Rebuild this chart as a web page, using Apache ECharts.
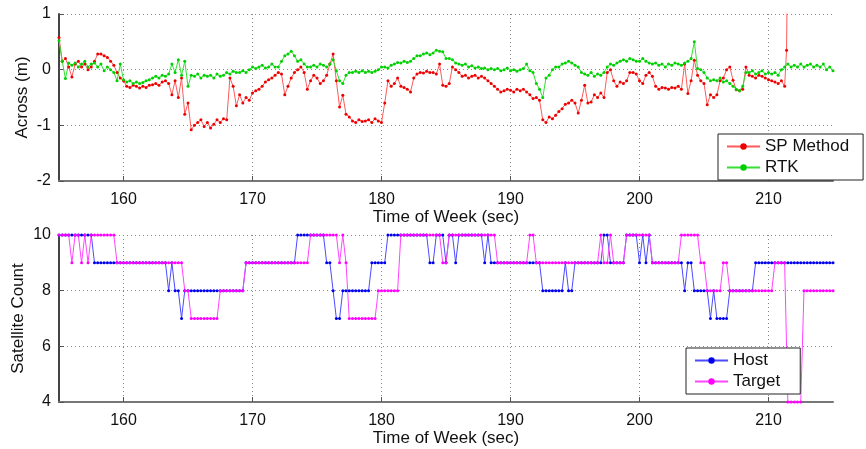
<!DOCTYPE html>
<html>
<head>
<meta charset="utf-8">
<script src="https://cdn.jsdelivr.net/npm/echarts@6/dist/echarts.min.js"></script>
<style>
  html, body { margin: 0; padding: 0; background: #fff; }
  #chart { width: 866px; height: 449px; }
</style>
</head>
<body>
<div id="chart"></div>
<script>
// samples every 0.25 s starting at 155 s
const startTime = 155;
const step = 0.25;
const xTicks = [160, 170, 180, 190, 200, 210];

// Across error (m), SP method, 155 .. 211.25
const spMethod = [
  0.58, 0.15, 0.2, 0.05,   -0.13, 0.1, 0.15, 0.05,   0.1, 0.0, 0.05, 0.15,   0.28, 0.28, 0.25, 0.22,
  0.15, 0.08, -0.05, -0.15, -0.2, -0.3, -0.32, -0.28, -0.3, -0.33, -0.3, -0.32, -0.28, -0.27, -0.25, -0.28,
  -0.22, -0.2, -0.25, -0.45, -0.2, -0.5, -0.15, -0.8, -0.6, -1.08, -1.0, -0.95, -0.9, -1.02, -0.95, -1.05,
  -0.98, -0.9, -0.95, -0.88, -0.9, -0.15, -0.3, -0.65, -0.45, -0.6, -0.5, -0.55, -0.42, -0.38, -0.35, -0.3,
  -0.22, -0.18, -0.15, -0.1, -0.05, -0.08, -0.45, -0.3, -0.15, -0.05, 0.0, 0.05, -0.05, -0.35, -0.2, -0.1,
  -0.15, -0.25, -0.2, -0.1, 0.1, 0.28, -0.2, -0.67, -0.46, -0.8, -0.85, -0.92, -0.95, -0.9, -0.93, -0.92,
  -0.9, -0.95, -0.88, -0.92, -0.95, -0.6, -0.2, -0.3, -0.25, -0.15, -0.3, -0.32, -0.35, -0.4, -0.15, -0.08,
  -0.05, -0.06, -0.03, -0.05, -0.05, -0.08, 0.1, -0.28, -0.3, -0.25, 0.05, 0.0, -0.05, -0.12, -0.1, -0.15,
  -0.12, -0.1, -0.15, -0.12, -0.15, -0.2, -0.25, -0.3, -0.35, -0.4, -0.38, -0.35, -0.37, -0.4, -0.35, -0.38,
  -0.35, -0.4, -0.45, -0.52, -0.5, -0.55, -0.9, -0.95, -0.85, -0.88, -0.82, -0.75, -0.7, -0.62, -0.6, -0.55,
  -0.6, -0.78, -0.55, -0.28, -0.6, -0.58, -0.45, -0.5, -0.42, -0.5, -0.05, 0.0, -0.2, -0.3, -0.22, -0.25,
  -0.2, -0.05, -0.05, -0.08, -0.2, -0.25, -0.1, -0.05, -0.12, -0.3, -0.35, -0.32, -0.33, -0.35, -0.32, -0.33,
  -0.3, -0.35, 0.1, -0.43, -0.2, 0.17, -0.1, -0.2, -0.25, -0.63, -0.45, -0.5, -0.45, -0.2, -0.15, 0.0,
  0.05, -0.19, -0.36, -0.38, -0.35, 0.05, -0.1, -0.12, -0.15, -0.1, -0.12, -0.15, -0.18, -0.2, -0.22, -0.25,
  -0.2, -0.3
];
// the final jump off the top of the axes
const spTail = [[211.4, 0.35], [211.45, 1.5]];

// Across error (m), RTK, 155 .. 215
const rtk = [
  0.52, 0.15, -0.16, 0.12, 0.08, 0.12, 0.05, 0.1, 0.15, 0.05, 0.1, 0.12, 0.05, 0.1, -0.02, 0.05,
  0.0, -0.05, -0.2, 0.1, -0.18, -0.22, -0.2, -0.25, -0.22, -0.25, -0.23, -0.2, -0.18, -0.15, -0.12, -0.15,
  -0.1, -0.12, -0.08, 0.1, -0.05, 0.18, -0.1, 0.15, -0.3, -0.1, -0.12, -0.08, -0.15, -0.1, -0.12, -0.1,
  -0.15, -0.08, -0.12, -0.1, -0.05, -0.08, -0.03, -0.05, -0.05, -0.02, -0.05, 0.0, 0.05, 0.02, 0.05, 0.08,
  0.03, 0.05, 0.1, 0.05, 0.05, 0.15, 0.25, 0.28, 0.33, 0.25, 0.15, 0.18, 0.1, 0.05, 0.05, 0.08,
  0.05, 0.1, 0.08, 0.05, 0.1, 0.18, -0.02, -0.2, -0.25, -0.1, -0.05, -0.05, -0.03, -0.05, -0.02, -0.05,
  -0.03, -0.05, -0.03, 0.0, 0.05, 0.05, 0.03, 0.08, 0.1, 0.13, 0.12, 0.15, 0.13, 0.15, 0.2, 0.25,
  0.25, 0.28, 0.3, 0.27, 0.3, 0.35, 0.33, 0.32, 0.2, 0.2, 0.18, 0.12, 0.1, 0.08, 0.1, 0.05,
  0.07, 0.03, 0.05, 0.02, 0.03, 0.0, 0.02, 0.0, 0.02, -0.02, 0.0, 0.03, -0.02, 0.0, -0.03, 0.0,
  0.02, 0.1, -0.02, -0.05, -0.25, -0.35, -0.5, -0.15, -0.1, 0.0, 0.05, 0.05, 0.1, 0.12, 0.15, 0.12,
  0.08, 0.05, -0.05, -0.08, -0.1, -0.05, -0.12, -0.08, -0.1, -0.05, 0.05, 0.1, 0.08, 0.12, 0.15, 0.18,
  0.15, 0.2, 0.18, 0.15, 0.15, 0.2, 0.15, 0.12, 0.1, 0.12, 0.08, 0.1, 0.05, 0.1, 0.08, 0.12,
  0.1, 0.08, 0.12, 0.15, 0.2, 0.5, 0.02, 0.0, -0.05, -0.15, -0.2, -0.18, -0.2, -0.15, -0.22, -0.2,
  -0.25, -0.3, -0.35, -0.38, -0.3, -0.05, -0.05, -0.02, -0.08, -0.05, -0.02, -0.08, -0.05, -0.08, -0.05, -0.1,
  0.0, 0.05, 0.1, 0.05, 0.08, 0.05, 0.1, 0.05, 0.08, 0.1, 0.05, 0.08, 0.05, 0.1, 0.0, 0.05,
  -0.02
];

// satellite counts, 155 .. 215
const hostCount = [
  10,10,10,10, 10,10,10,10, 10,10,10,9, 9,9,9,9, 9,9,9,9, 9,9,9,9, 9,9,9,9, 9,9,9,9,
  9,9,8,9, 8,8,7,8, 8,8,8,8, 8,8,8,8, 8,8,8,8, 8,8,8,8, 8,8,9,9, 9,9,9,9,
  9,9,9,9, 9,9,9,9, 9,9,10,10, 10,10,10,10, 10,10,10,9, 9,8,7,7, 8,8,8,8, 8,8,8,8,
  8,9,9,9, 9,9,10,10, 10,10,10,10, 10,10,10,10, 10,10,10,9, 9,10,10,10, 9,10,10,9, 10,10,10,10,
  10,10,10,10, 9,10,9,9, 9,9,9,9, 9,9,9,9, 9,9,9,9, 9,9,8,8, 8,8,8,8, 8,9,8,8,
  9,9,9,9, 9,9,9,9, 9,10,10,9, 9,9,9,9, 10,10,10,10, 9,10,9,10, 9,9,9,9, 9,9,9,9,
  9,9,8,9, 9,8,8,8, 8,8,7,8, 7,7,7,7, 8,8,8,8, 8,8,8,8, 9,9,9,9, 9,9,9,9,
  9,9,9,9, 9,9,9,9, 9,9,9,9, 9,9,9,9, 9
];
const targetCount = [
  10,10,10,10, 9,10,10,9, 10,9,10,10, 10,10,10,10, 10,10,9,9, 9,9,9,9, 9,9,9,9, 9,9,9,9,
  9,9,9,9, 9,9,9,8, 8,7,7,7, 7,7,7,7, 7,7,8,8, 8,8,8,8, 8,8,9,9, 9,9,9,9,
  9,9,9,9, 9,9,9,9, 9,9,9,9, 9,9,10,10, 10,10,10,10, 10,10,10,9, 10,9,7,7, 7,7,7,7,
  7,7,7,8, 8,8,8,8, 8,8,10,10, 10,10,10,10, 10,10,10,10, 10,10,10,9, 9,10,10,10, 10,10,10,10,
  10,10,10,10, 10,10,10,10, 9,9,9,9, 9,9,9,9, 9,9,10,10, 9,9,9,9, 9,9,9,9, 9,9,9,9,
  9,9,9,9, 9,9,9,9, 10,9,9,10, 9,9,9,9, 10,10,10,10, 10,10,10,10, 9,9,9,9, 9,9,9,9,
  9,10,10,10, 10,10,10,9, 9,8,8,8, 8,8,9,9, 8,8,8,8, 8,8,8,8, 8,8,8,8, 8,8,9,9,
  9,9,4,4, 4,4,4,8, 8,8,8,8, 8,8,8,8, 8
];

const toPairs = vals => vals.map((v, i) => [startTime + i * step, v]);

const chart = echarts.init(document.getElementById('chart'), null, { renderer: 'canvas' });

const txt = '#111';
const fontFamily = 'Liberation Sans, Arial, sans-serif';
const gridLine = { show: true, lineStyle: { color: '#8a8a8a', type: [1, 3], width: 1 } };

function xAxisFor(gridIndex) {
  return {
    type: 'value', gridIndex, min: 155, max: 215,
    name: 'Time of Week (sec)', nameLocation: 'middle', nameGap: 26,
    nameTextStyle: { fontSize: 17, color: txt, fontFamily },
    axisLine: { show: true, onZero: false, lineStyle: { color: '#777', width: 2 } },
    axisTick: { show: true, inside: true, length: 5, customValues: xTicks, lineStyle: { color: '#555' } },
    axisLabel: { customValues: xTicks, fontSize: 16, color: txt, margin: 11, fontFamily },
    splitLine: gridLine
  };
}

function yAxisFor(gridIndex, min, max, interval, name, gap) {
  return {
    type: 'value', gridIndex, min, max, interval,
    name, nameLocation: 'middle', nameGap: gap, nameMoveOverlap: false,
    nameTextStyle: { fontSize: 17, color: txt, fontFamily },
    axisLine: { show: true, lineStyle: { color: '#444', width: 2 } },
    axisTick: { show: true, inside: true, length: 5, lineStyle: { color: '#555' } },
    axisLabel: { fontSize: 16, color: txt, margin: 8, fontFamily },
    splitLine: gridLine
  };
}

function lineSeries(name, data, lineColor, dotColor, xi) {
  return {
    name, type: 'line', xAxisIndex: xi, yAxisIndex: xi, data,
    symbol: 'circle', symbolSize: 3, showSymbol: true, animation: false,
    lineStyle: { color: lineColor, width: 1 },
    itemStyle: { color: dotColor, borderWidth: 0 },
    clip: true
  };
}

const legendBase = {
  orient: 'vertical', itemWidth: 33, itemHeight: 8, itemGap: 4,
  borderColor: '#222', borderWidth: 1, backgroundColor: '#fff',
  textStyle: { fontSize: 17, color: txt, fontFamily }
};

chart.setOption({
  backgroundColor: '#fff',
  animation: false,
  grid: [
    { left: 59, right: 33, top: 14, height: 167, outerBoundsMode: 'none' },
    { left: 59, right: 33, top: 235, height: 167, outerBoundsMode: 'none' }
  ],
  xAxis: [xAxisFor(0), xAxisFor(1)],
  yAxis: [
    yAxisFor(0, -2, 1, 1, 'Across (m)', 28),
    yAxisFor(1, 4, 10, 2, 'Satellite Count', 32)
  ],
  legend: [
    Object.assign({}, legendBase, { data: ['SP Method', 'RTK'], left: 718, top: 134, padding: [4, 14, 4, 8] }),
    Object.assign({}, legendBase, { data: ['Host', 'Target'], left: 686, top: 348, padding: [4, 20, 4, 8] })
  ],
  series: [
    lineSeries('SP Method', toPairs(spMethod).concat(spTail), '#ff5a5a', '#ee0000', 0),
    lineSeries('RTK', toPairs(rtk), '#33e033', '#00d000', 0),
    lineSeries('Host', toPairs(hostCount), '#4a4aff', '#0000ee', 1),
    lineSeries('Target', toPairs(targetCount), '#ff44ff', '#ff00ff', 1)
  ]
});
</script>
</body>
</html>
